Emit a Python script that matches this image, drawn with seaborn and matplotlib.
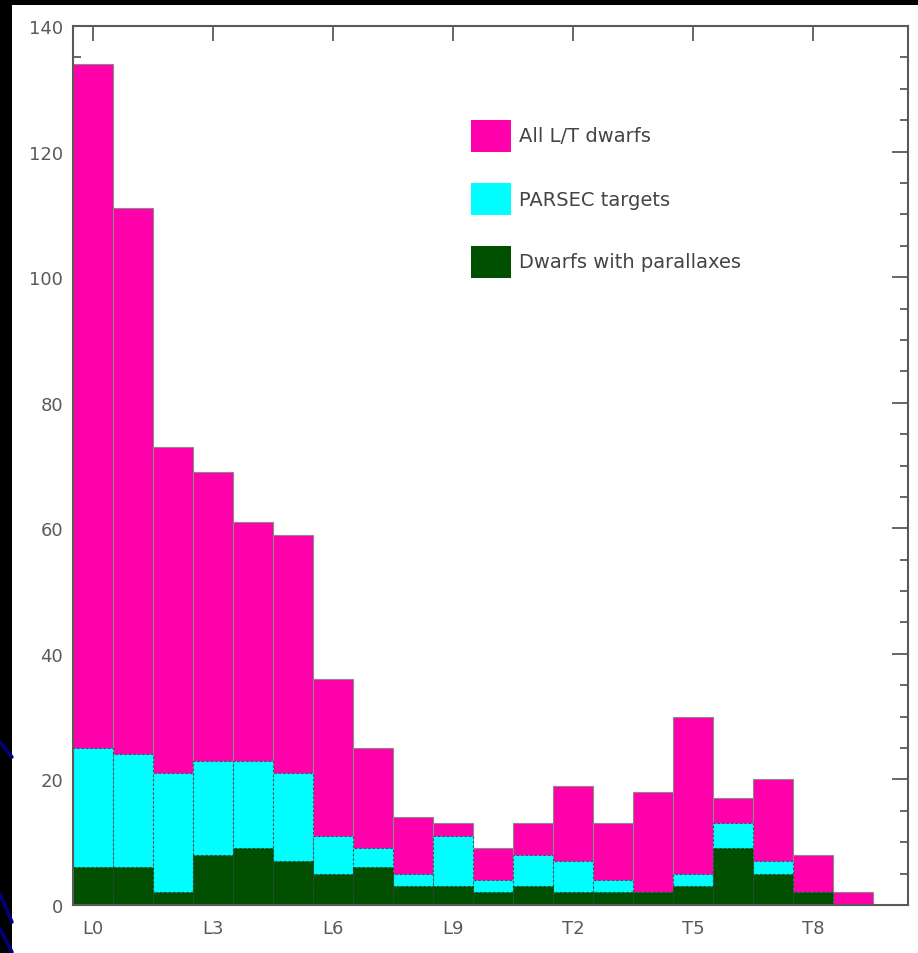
import matplotlib
matplotlib.use("Agg")
import matplotlib.pyplot as plt
from matplotlib.patches import Rectangle
from matplotlib.lines import Line2D
import seaborn as sns
import pandas as pd

# Spectral types L0..T9
spectral_types = ["L0", "L1", "L2", "L3", "L4", "L5", "L6", "L7", "L8", "L9",
                  "T0", "T1", "T2", "T3", "T4", "T5", "T6", "T7", "T8", "T9"]
all_dwarfs = [134, 111, 73, 69, 61, 59, 36, 25, 14, 13,
              9, 13, 19, 13, 18, 30, 17, 20, 8, 2]
parsec_targets = [25, 24, 21, 23, 23, 21, 11, 9, 5, 11,
                  4, 8, 7, 4, 2, 5, 13, 7, 2, 0]
with_parallax = [6, 6, 2, 8, 9, 7, 5, 6, 3, 3,
                 2, 3, 2, 2, 2, 3, 9, 5, 2, 0]
tick_labels = ["L0", "L3", "L6", "L9", "T2", "T5", "T8"]
legend_labels = ["All L/T dwarfs", "PARSEC targets", "Dwarfs with parallaxes"]

MAGENTA = "#ff00aa"
CYAN = "#00ffff"
GREEN = "#005000"
GREY = "#5a5a5a"

df = pd.DataFrame({"sptype": spectral_types, "all": all_dwarfs,
                   "parsec": parsec_targets, "plx": with_parallax})

sns.set_style("white")
plt.rcParams["font.family"] = ["DejaVu Sans"]

W, H = 918, 954
fig = plt.figure(figsize=(W / 100, H / 100), dpi=100, facecolor="black")
# white page area with dark margin on the left and top
page = Rectangle((12 / W, 0), 1 - 12 / W, 948 / H,
                 transform=fig.transFigure, facecolor="white",
                 edgecolor="none", zorder=-10)
fig.add_artist(page)
# decorative blue strokes in the left margin
for (x0, y0, x1, y1) in [(0, 743, 12, 758), (0, 895, 12, 923), (0, 930, 12, 953)]:
    fig.add_artist(Line2D([x0 / W, x1 / W], [1 - y0 / H, 1 - y1 / H],
                          transform=fig.transFigure, color="#000080", lw=2.5,
                          zorder=-5))

# axes frame: x 73..908 px, y 27..906 px
AX_L, AX_R, AX_T, AX_B = 73, 908, 27, 906
ax = fig.add_axes([AX_L / W, (H - AX_B) / H, (AX_R - AX_L) / W, (AX_B - AX_T) / H])
ax.set_facecolor("white")

sns.barplot(data=df, x="sptype", y="all", color=MAGENTA, width=1.0,
            saturation=1, edgecolor="#8a8a8a", linewidth=0.8, ax=ax, zorder=1)
sns.barplot(data=df, x="sptype", y="parsec", color=CYAN, width=1.0,
            saturation=1, edgecolor="#3a5060", linewidth=0.8, linestyle=(0, (2, 2)),
            ax=ax, zorder=2)
sns.barplot(data=df, x="sptype", y="plx", color=GREEN, width=1.0,
            saturation=1, edgecolor="#2a4a3a", linewidth=0.8, linestyle=(0, (2, 2)),
            ax=ax, zorder=3)

ax.set_xlim(-0.5, 20.375)
ax.set_ylim(0, 140)
ax.set_xlabel("")
ax.set_ylabel("")

tick_pos = [spectral_types.index(t) for t in tick_labels]
ax.set_xticks(tick_pos)
ax.set_xticklabels(tick_labels)
ax.set_yticks(range(0, 141, 20))
ax.set_yticks(range(0, 141, 5), minor=True)

ax.tick_params(axis="x", which="major", direction="in", top=True, bottom=False,
               length=11, width=1.3, color=GREY, labelcolor=GREY, labelsize=13,
               pad=10)
ax.tick_params(axis="y", which="major", direction="in", left=True, right=True,
               length=11.5, width=1.3, color=GREY, labelcolor=GREY, labelsize=13,
               pad=7)
ax.tick_params(axis="y", which="minor", direction="in", left=True, right=True,
               length=5.8, width=1.3, color=GREY)
ax.tick_params(axis="x", which="minor", bottom=False, top=False)

for side in ["left", "right", "top", "bottom"]:
    ax.spines[side].set_visible(True)
    ax.spines[side].set_color(GREY)
    ax.spines[side].set_linewidth(1.5)
    ax.spines[side].set_zorder(5)


# legend: colour boxes with labels, placed in axes fractions
def ax_x(px):
    return (px - AX_L) / (AX_R - AX_L)


def ax_y(py):
    return (AX_B - py) / (AX_B - AX_T)


box_w, box_h, row_pitch, top0 = 40, 32, 63, 121
for i, (col, lab) in enumerate(zip([MAGENTA, CYAN, GREEN], legend_labels)):
    top = top0 + i * row_pitch
    ax.add_patch(Rectangle((ax_x(471), ax_y(top + box_h)),
                           box_w / (AX_R - AX_L), box_h / (AX_B - AX_T),
                           transform=ax.transAxes, facecolor=col,
                           edgecolor="none", zorder=6))
    ax.text(ax_x(519), ax_y(top + box_h / 2), lab, transform=ax.transAxes,
            ha="left", va="center", fontsize=14, color="#444444", zorder=6)

fig.savefig("out.png", dpi=100, facecolor="black")
